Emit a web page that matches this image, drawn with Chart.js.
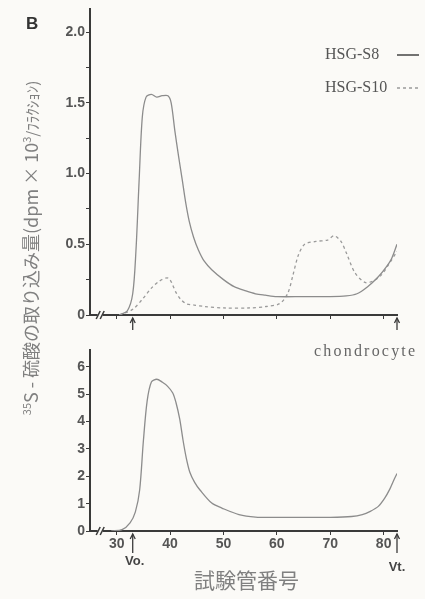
<!DOCTYPE html>
<html>
<head>
<meta charset="utf-8">
<script src="https://cdn.jsdelivr.net/npm/chart.js@4/dist/chart.umd.min.js"></script>
<style>
  body { margin: 0; background: #fbfaf7; }
  #wrap { position: relative; width: 425px; height: 599px; overflow: hidden; }
  canvas { position: absolute; left: 0; }
  .lbl { position: absolute; white-space: nowrap; color: #555; }
</style>
</head>
<body>
<div id="wrap">
  <canvas id="topChart" width="425" height="340" style="top:0"></canvas>
  <canvas id="botChart" width="425" height="259" style="top:340px"></canvas>
  <div class="lbl" style="left:26px;top:14px;font:bold 17px 'Liberation Sans';color:#333">B</div>
  <div class="lbl" id="ytitle" style="left:-170px;top:235px;width:400px;text-align:center;transform:rotate(-90deg);font:18px 'Noto Sans CJK JP';color:#808080">
    <sup style="font-size:11px">35</sup>S - 硫酸の取り込み量(dpm × 10<sup style="font-size:11px">3</sup><span style="font-size:15px">/ﾌﾗｸｼｮﾝ)</span>
  </div>
  <div class="lbl" style="left:314px;top:342px;font:16px 'Liberation Serif';letter-spacing:2.2px;color:#666">chondrocyte</div>
  <div class="lbl" style="left:194px;top:564px;font:21px 'Noto Sans CJK JP';color:#808080">試験管番号</div>
</div>
<script>
// 横軸(試験管番号)
const xMin = 25, xMax = 82.5;
const xTicks = [30, 40, 50, 60, 70, 80];
const vo = 33, vt = 82.5;

// 上段 HSG-S8 (実線)
const s8X = [30.5, 32, 33, 33.6, 34.2, 34.8, 35.5, 36.5, 37.5, 38.5, 39.6, 40.2, 40.9, 41.6, 42.3, 42.9, 43.6, 44.4, 45.3, 46.4, 47.8, 50, 52, 54.2, 56, 57.8, 60, 65, 70, 73, 75, 77, 79, 80.5, 81.5, 82.5];
const s8Y = [0, 0.03, 0.15, 0.45, 0.95, 1.4, 1.54, 1.56, 1.54, 1.55, 1.55, 1.5, 1.3, 1.12, 0.95, 0.8, 0.66, 0.55, 0.46, 0.38, 0.32, 0.25, 0.2, 0.17, 0.15, 0.14, 0.13, 0.13, 0.13, 0.135, 0.15, 0.2, 0.27, 0.34, 0.4, 0.5];

// 上段 HSG-S10 (破線)
const s10X = [30.5, 33, 35, 36.5, 38, 39.7, 41.1, 42, 43, 44.5, 46.5, 50, 55, 58, 60.5, 62, 63, 64, 65.2, 67.3, 69.5, 70.7, 72, 73, 74.6, 76.5, 78, 79.5, 81, 82.5];
const s10Y = [0, 0.04, 0.12, 0.19, 0.24, 0.26, 0.16, 0.11, 0.08, 0.07, 0.06, 0.05, 0.05, 0.06, 0.08, 0.15, 0.28, 0.42, 0.5, 0.52, 0.53, 0.56, 0.52, 0.44, 0.3, 0.23, 0.24, 0.28, 0.36, 0.45];

// 下段 chondrocyte
const chX = [29, 31, 32.5, 33.5, 34.3, 35, 35.7, 36.5, 37.5, 38.5, 39.5, 40.5, 41.1, 41.8, 42.4, 43, 43.7, 44.6, 45.6, 47.8, 49.7, 52.9, 56, 60, 65, 70, 74, 76, 77.5, 79, 80.2, 81.2, 82, 82.5];
const chY = [0, 0.05, 0.3, 0.7, 1.5, 3.3, 4.75, 5.45, 5.55, 5.45, 5.3, 5.05, 4.7, 4.1, 3.35, 2.7, 2.15, 1.78, 1.5, 1.02, 0.84, 0.6, 0.51, 0.5, 0.5, 0.5, 0.53, 0.6, 0.72, 0.9, 1.2, 1.55, 1.9, 2.1];

// 縦軸目盛
const yTopMax = 2.16;
const yTopTicks = [0, 0.25, 0.5, 0.75, 1.0, 1.25, 1.5, 1.75, 2.0];
const yTopLabels = ['0', '', '0.5', '', '1.0', '', '1.5', '', '2.0'];
const yBotMax = 6.62;
const yBotTicks = [0, 1, 2, 3, 4, 5, 6];
const yBotLabels = ['0', '1', '2', '3', '4', '5', '6'];

const pts = (xs, ys) => xs.map((x, i) => ({ x: x, y: ys[i] }));
const axisCol = '#3a3a3a';
const lineCol = '#8c8c8c';
const tickFont = { family: 'Liberation Sans', size: 14, weight: 'bold' };

// Vo / Vt の矢印と // の印
function markers(showText) {
  return {
    id: 'markers',
    afterDraw(chart) {
      const c = chart.ctx, xs = chart.scales.x, a = chart.chartArea;
      c.save();
      c.strokeStyle = axisCol; c.fillStyle = '#444'; c.lineWidth = 1.3;
      [vo, vt].forEach(v => {
        const px = xs.getPixelForValue(v);
        c.beginPath(); c.moveTo(px, a.bottom + 3); c.lineTo(px, a.bottom + (showText ? 22 : 15)); c.stroke();
        c.beginPath(); c.moveTo(px - 2.5, a.bottom + 8); c.lineTo(px, a.bottom + 3); c.lineTo(px + 2.5, a.bottom + 8); c.stroke();
      });
      if (showText) {
        c.font = "bold 13px 'Liberation Sans'"; c.textAlign = 'center'; c.textBaseline = 'middle';
        c.fillText('Vo.', xs.getPixelForValue(vo) + 2, a.bottom + 30);
        c.fillText('Vt.', xs.getPixelForValue(vt), a.bottom + 36);
      }
      const bx = xs.getPixelForValue(27);
      c.fillStyle = '#fbfaf7'; c.fillRect(bx - 3, a.bottom - 2, 5, 4);
      c.lineWidth = 1.5;
      [-2.5, 1.5].forEach(d => {
        c.beginPath(); c.moveTo(bx + d - 2, a.bottom + 4); c.lineTo(bx + d + 2, a.bottom - 4); c.stroke();
      });
      c.restore();
    }
  };
}

const legendPlugin = {
  id: 'legendLines',
  afterDraw(chart) {
    const c = chart.ctx;
    c.save();
    c.font = "16px 'Liberation Serif'"; c.fillStyle = '#555'; c.textBaseline = 'middle';
    chart.data.datasets.forEach((ds, i) => {
      const y = 55 + i * 33;
      c.fillText(ds.label, 325, y);
      c.strokeStyle = i === 0 ? '#444' : ds.borderColor; c.lineWidth = 1.5;
      c.setLineDash(ds.borderDash || []);
      c.beginPath(); c.moveTo(397, y); c.lineTo(419, y); c.stroke();
    });
    c.restore();
  }
};

function xScale(height, showLabels) {
  return {
    type: 'linear', min: xMin, max: xMax,
    afterBuildTicks: s => { s.ticks = xTicks.map(v => ({ value: v })); },
    afterFit: s => { s.height = height; },
    grid: { drawOnChartArea: false, drawTicks: true, tickLength: 4, color: axisCol },
    border: { color: axisCol, width: 2 },
    ticks: { callback: v => showLabels ? String(v) : '', font: tickFont, color: '#555', padding: 1, maxRotation: 0 }
  };
}

function yScale(max, ticks, labels) {
  return {
    type: 'linear', min: 0, max: max,
    afterBuildTicks: s => { s.ticks = ticks.map(v => ({ value: v })); },
    afterFit: s => { s.width = 90; },
    grid: { drawOnChartArea: false, drawTicks: true, tickLength: 4, color: axisCol },
    border: { color: axisCol, width: 2 },
    ticks: { callback: (v, i) => labels[i], font: tickFont, color: '#555', padding: 1 }
  };
}

const common = {
  responsive: false,
  animation: false,
  plugins: { legend: { display: false }, tooltip: { enabled: false } },
  elements: { point: { radius: 0 }, line: { tension: 0.3, borderWidth: 1.3 } }
};

new Chart(document.getElementById('topChart'), {
  type: 'line',
  data: {
    datasets: [
      { label: 'HSG-S8', data: pts(s8X, s8Y), borderColor: lineCol },
      { label: 'HSG-S10', data: pts(s10X, s10Y), borderColor: '#9a9a9a', borderDash: [3, 3] }
    ]
  },
  options: Object.assign({}, common, {
    layout: { padding: { left: 0, right: 28, top: 5, bottom: 0 } },
    scales: { x: xScale(25, false), y: yScale(yTopMax, yTopTicks, yTopLabels) }
  }),
  plugins: [markers(false), legendPlugin]
});

new Chart(document.getElementById('botChart'), {
  type: 'line',
  data: {
    datasets: [
      { label: 'chondrocyte', data: pts(chX, chY), borderColor: lineCol }
    ]
  },
  options: Object.assign({}, common, {
    layout: { padding: { left: 0, right: 28, top: 10, bottom: 0 } },
    scales: { x: xScale(68, true), y: yScale(yBotMax, yBotTicks, yBotLabels) }
  }),
  plugins: [markers(true)]
});
</script>
</body>
</html>
